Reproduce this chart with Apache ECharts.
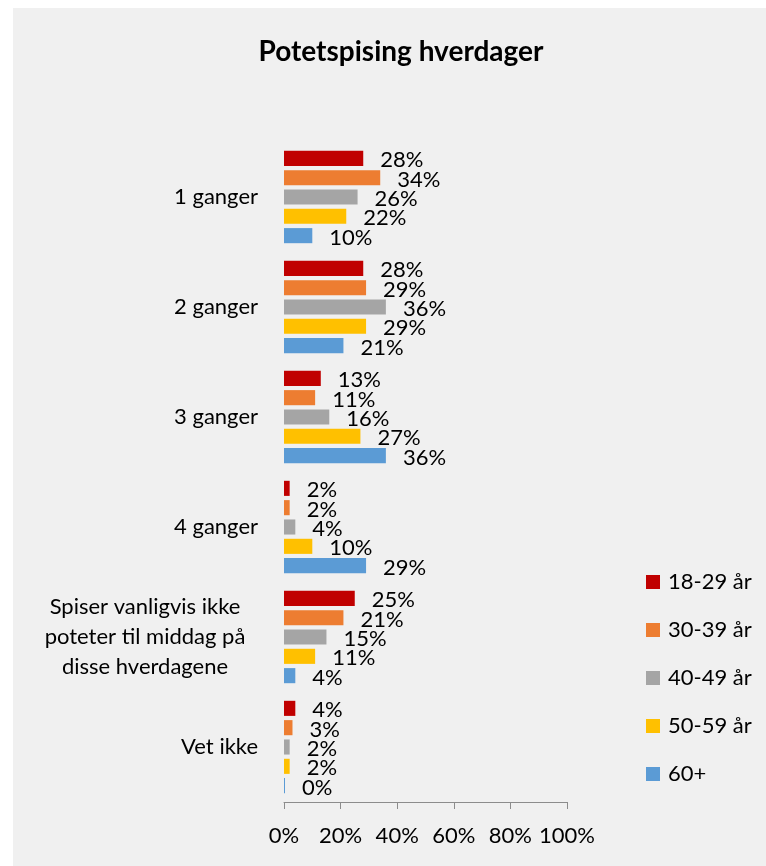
<!DOCTYPE html>
<html>
<head>
<meta charset="utf-8">
<script src="https://cdn.jsdelivr.net/npm/echarts@6/dist/echarts.min.js"></script>
<style>
  html, body { margin: 0; padding: 0; background: #fff; }
  #chart { width: 766px; height: 866px; }
</style>
</head>
<body>
<div id="chart"></div>
<script>
// kategorier (fra topp)
const categories = ['1 ganger', '2 ganger', '3 ganger', '4 ganger',
  'Spiser vanligvis ikke\npoteter til middag på\ndisse hverdagene', 'Vet ikke']
const groups = ['18-29 år', '30-39 år', '40-49 år', '50-59 år', '60+']
const colors = ['#C00000', '#ED7D31', '#A5A5A5', '#FFC000', '#5B9BD5']

const v18_29 = [28, 28, 13, 2, 25, 4]
const v30_39 = [34, 29, 11, 2, 21, 3]
const v40_49 = [26, 36, 16, 4, 15, 2]
const v50_59 = [22, 29, 27, 10, 11, 2]
const v60 = [10, 21, 36, 29, 4, 0]
const values = [v18_29, v30_39, v40_49, v50_59, v60]

const xTicks = [0, 20, 40, 60, 80, 100]

const font = 'Lato, "Open Sans", sans-serif'

const chart = echarts.init(document.getElementById('chart'))

let option = {
  backgroundColor: '#ffffff',
  animation: false,
  textStyle: { fontFamily: font },
  graphic: [{
    type: 'rect',
    z: -10,
    shape: { x: 13, y: 8, width: 753, height: 858 },
    style: { fill: '#F0F0F0' }
  }],
  title: {
    text: 'Potetspising hverdager',
    left: 396,
    textAlign: 'center',
    top: 33,
    textStyle: { fontSize: 28, fontWeight: 'bold', color: '#000', fontFamily: font }
  },
  legend: {
    orient: 'vertical',
    left: 641,
    top: 565,
    itemWidth: 14,
    itemHeight: 14,
    itemGap: 24,
    icon: 'rect',
    textStyle: { fontSize: 22, lineHeight: 24, color: '#000', fontFamily: font, padding: [0, 0, 0, 3] },
    data: groups
  },
  grid: {
    left: 284,
    top: 142,
    width: 283,
    height: 660,
    containLabel: false
  },
  xAxis: {
    type: 'value',
    min: xTicks[0],
    max: xTicks[xTicks.length - 1],
    interval: 20,
    axisLine: { show: true, lineStyle: { color: '#8c8c8c', width: 1 } },
    axisTick: { show: true, length: 7, inside: false, lineStyle: { color: '#8c8c8c' } },
    splitLine: { show: false },
    axisLabel: {
      formatter: '{value}%',
      fontSize: 22,
      color: '#000',
      margin: 23,
      fontFamily: font
    }
  },
  yAxis: {
    type: 'category',
    inverse: true,
    data: categories,
    axisLine: { show: false },
    axisTick: { show: false },
    axisLabel: {
      fontSize: 22,
      color: '#000',
      margin: 26,
      fontFamily: font,
      formatter: v => v.includes('\n')
        ? v.split('\n').map(l => '{c|' + l + '}').join('\n')
        : v,
      rich: {
        c: { fontSize: 22, lineHeight: 30, width: 226, align: 'center', color: '#000', fontFamily: font }
      }
    }
  },
  series: groups.map((name, i) => ({
    name: name,
    type: 'bar',
    data: values[i],
    barGap: '28%',
    barCategoryGap: '16%',
    barMinHeight: 1,
    itemStyle: { color: colors[i] },
    label: {
      show: true,
      position: 'right',
      distance: 17,
      offset: [0, 2],
      formatter: '{c}%',
      fontSize: 22,
      color: '#000',
      fontFamily: font
    }
  }))
}

chart.setOption(option)
</script>
</body>
</html>
